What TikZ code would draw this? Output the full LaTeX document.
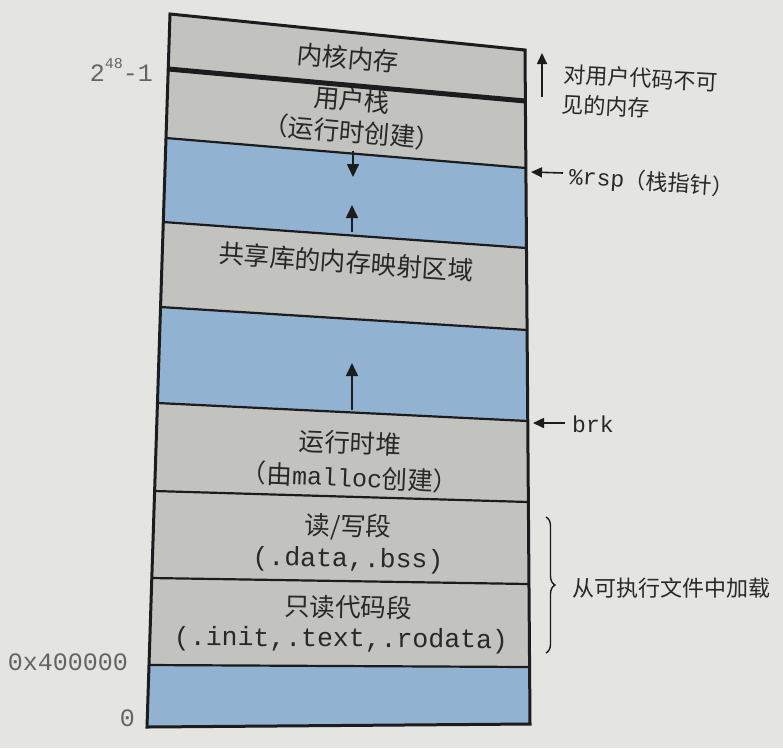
\documentclass[tikz,border=0pt]{standalone}
\usepackage{fontspec}
\setmainfont{Noto Sans CJK SC}
\setmonofont{Liberation Mono}
\usetikzlibrary{arrows.meta,decorations.pathreplacing}
\definecolor{paper}{RGB}{228,228,225}
\definecolor{cellgray}{RGB}{194,194,191}
\definecolor{cellblue}{RGB}{146,178,210}
\definecolor{ink}{RGB}{28,28,30}
\definecolor{txt}{RGB}{40,40,40}
\definecolor{lbl}{RGB}{100,100,100}
\newcommand{\codefont}{\ttfamily\fontsize{26.5}{30}\selectfont}
\begin{document}
\begin{tikzpicture}[x=1pt,y=-1pt,
  seg/.style={line width=2.2pt, draw=ink},
  cell/.style={font=\fontsize{25.5}{30}\selectfont, text=txt, inner sep=0pt},
  side/.style={font=\fontsize{22}{30}\selectfont, text=txt, inner sep=0pt, anchor=west},
  addr/.style={font=\ttfamily\fontsize{25}{28}\selectfont, text=lbl, inner sep=0pt, anchor=east},
  growarrow/.style={line width=1.6pt, draw=ink, -{Triangle[length=13pt,width=12pt]}},
  ptrarrow/.style={line width=1.6pt, draw=ink, -{Triangle[length=11pt,width=10pt]}},
  ]
\fill[paper] (0,0) rectangle (783,748);
\useasboundingbox (0,0) rectangle (783,748);
% boundary end points (left / right)
\coordinate (L0) at (170,14);    \coordinate (R0) at (525,50);
\coordinate (L1) at (168.2,69);  \coordinate (R1) at (525.4,101);
\coordinate (L2) at (166,138);   \coordinate (R2) at (525.9,168);
\coordinate (L3) at (163.3,222); \coordinate (R3) at (526.5,248);
\coordinate (L4) at (160.5,307); \coordinate (R4) at (527.1,330);
\coordinate (L5) at (157.5,403); \coordinate (R5) at (527.8,421);
\coordinate (L6) at (154.6,491); \coordinate (R6) at (528.4,502);
\coordinate (L7) at (151.8,578); \coordinate (R7) at (529,584);
\coordinate (L8) at (149,665);   \coordinate (R8) at (529.6,667);
\coordinate (L9) at (147,727);   \coordinate (R9) at (530,724);
% fills
\fill[cellgray] (L0) -- (R0) -- (R1) -- (L1) -- cycle;
\fill[cellgray] (L1) -- (R1) -- (R2) -- (L2) -- cycle;
\fill[cellblue] (L2) -- (R2) -- (R3) -- (L3) -- cycle;
\fill[cellgray] (L3) -- (R3) -- (R4) -- (L4) -- cycle;
\fill[cellblue] (L4) -- (R4) -- (R5) -- (L5) -- cycle;
\fill[cellgray] (L5) -- (R5) -- (R6) -- (L6) -- cycle;
\fill[cellgray] (L6) -- (R6) -- (R7) -- (L7) -- cycle;
\fill[cellgray] (L7) -- (R7) -- (R8) -- (L8) -- cycle;
\fill[cellblue] (L8) -- (R8) -- (R9) -- (L9) -- cycle;
% boundaries
\draw[ink, line width=5pt] (L1) -- (R1);
\draw[seg] (L2) -- (R2);
\draw[seg] (L3) -- (R3);
\draw[seg] (L4) -- (R4);
\draw[seg] (L5) -- (R5);
\draw[seg] (L6) -- (R6);
\draw[seg] (L7) -- (R7);
\draw[seg] (L8) -- (R8);
\draw[ink, line width=3pt, line join=miter] (L0) -- (R0) -- (R9) -- (L9) -- cycle;
% growth arrows
\coordinate (sdTail) at (353,151); \coordinate (sdHead) at (353,177);
\coordinate (suTail) at (352,232); \coordinate (suHead) at (352,205);
\coordinate (huTail) at (352,410); \coordinate (huHead) at (352,363);
\draw[growarrow] (sdTail) -- (sdHead);
\draw[growarrow] (suTail) -- (suHead);
\draw[growarrow] (huTail) -- (huHead);
% cell texts
\node[cell, rotate=-5] (kern) at (348,58) {内核内存};
\node[cell, rotate=-5] (ustk) at (352,100) {用户栈};
\node[cell, rotate=-5] (ustkb) at (352,132) {（运行时创建）};
\node[cell, rotate=-4] (shlib) at (346,262) {共享库的内存映射区域};
\node[cell, rotate=-2.5] (heap) at (350,443) {运行时堆};
\node[cell, rotate=-2.5] (heapb) at (350,477) {（由{\ttfamily\fontsize{25}{30}\selectfont malloc}创建）};
\node[cell, rotate=-1.5] (rw) at (348,527) {读/写段};
\node[cell, rotate=-1] (rwb) at (348,560) {{\codefont (.data,.bss)}};
\node[cell, rotate=-1] (ro) at (348,607) {只读代码段};
\node[cell, rotate=-0.5] (rob) at (341,640) {{\codefont (.init,.text,.rodata)}};
% address labels
\node[addr] (top) at (153,70) {2\raisebox{0.5em}{\fontsize{15}{15}\selectfont 48}-1};
\node[addr] (x400) at (128,662) {0x400000};
\node[addr] (zero) at (135,718) {0};
% side labels
\node[side, align=left, rotate=-3] (inv) at (563,89) {对用户代码不可\\见的内存};
\coordinate (invTail) at (542,97); \coordinate (invHead) at (542,53);
\draw[ptrarrow] (invTail) -- (invHead);
\node[side, rotate=-4] (rsp) at (569,177) {{\ttfamily\fontsize{23}{28}\selectfont \%rsp}（栈指针）};
\coordinate (rspHead) at (531,172);
\draw[ptrarrow] (rsp.west) ++(-6,-4) coordinate (rspTail) (rspTail) -- (rspHead);
\node[side] (brk) at (572,424) {{\ttfamily\fontsize{23}{28}\selectfont brk}};
\coordinate (brkHead) at (533,423);
\draw[ptrarrow] (brk.west) ++(-7,-1) coordinate (brkTail) (brkTail) -- (brkHead);
\node[side] (load) at (572,588) {从可执行文件中加载};
\coordinate (brTop) at (546,517); \coordinate (brBot) at (546,653);
\draw[ink, line width=1.4pt, decorate, decoration={brace, amplitude=9pt}] (brTop) -- (brBot);
\end{tikzpicture}
\end{document}
